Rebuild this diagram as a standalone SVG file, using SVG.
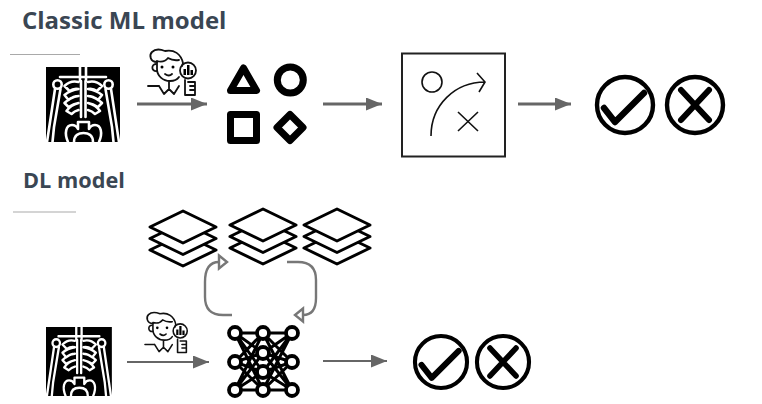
<svg xmlns="http://www.w3.org/2000/svg" xmlns:xlink="http://www.w3.org/1999/xlink" width="762" height="404" viewBox="0 0 762 404">
<style>
.title{font-family:"Open Sans","Noto Sans",sans-serif;font-weight:700;fill:#3a4653}
.rule{stroke:#a9a9a9;stroke-width:1;fill:none}
.conn{stroke:#666;fill:none}
.ret{stroke:#777;stroke-width:2.400;fill:none}
.bk{fill:none;stroke:#000;stroke-linecap:round;stroke-linejoin:round}
.layer{fill:#fff;stroke:#000;stroke-width:3;stroke-linejoin:round}
.bone{fill:none;stroke:#fff;stroke-width:2.600;stroke-linecap:round;stroke-linejoin:round}
.p{fill:none;stroke:#111;stroke-width:1.800;stroke-linecap:round;stroke-linejoin:round}
.nn{stroke:#000;stroke-width:3}
.nd{fill:#fff;stroke:#000;stroke-width:3.800}
</style>
<defs>
<marker id="ah" viewBox="0 0 16 13" markerUnits="userSpaceOnUse" markerWidth="17" markerHeight="13" refX="16" refY="6.5" orient="auto"><path d="M0 0L16 6.5L0 13Z" fill="#666"/></marker>
<g id="ribs">
<path class="bone" d="M42 15Q50 13 56 19L51 24Q47 21 42 22M42 22Q50 23 56 28L52 33Q47 29 42 29M42 29Q50 30 56 36L52 40Q47 37 42 36M42 36Q50 38 54 44L49 47Q46 44 42 43"/>
</g>
<g id="xray">
<rect x="0" y="0" width="74" height="75"/>
<path class="bone" d="M34 0V14M40 0V14M35 14V50M39.500 14V50M14 10H60"/>
<circle class="bone" cx="11.500" cy="17.500" r="4.200"/><circle class="bone" cx="62.500" cy="17.500" r="4.200"/>
<path class="bone" d="M9 22L1 75M14.500 22L8 60L6.500 75M65 22L73 75M59.500 22L66 60L67.500 75"/>
<use xlink:href="#ribs"/>
<use xlink:href="#ribs" transform="translate(74.500 0) scale(-1 1)"/>
<path class="bone" stroke-width="2" d="M22 75C18 66 20 58 26 58C29 58 31 60 32 62V55H43V62C44 60 46 58 49 58C55 58 57 66 53 75M28 75C28 68 33 66 37.500 66C42 66 47 68 47 75"/>
</g>
<g id="person">
<path class="p" d="M9 13C2 13 1 6 4 3C7 0 12 0 17 2C26 0 33 5 35 14L34 17"/>
<path class="p" d="M9 12Q16 14 20 9Q25 12 31 11M9 12V20C9 27 15 32 22 32C26 32 29 31 31 28"/>
<path class="p" d="M8 15C3 15 3 23 9 22M0 37H11M11 37L16 45L21 40L26 45L31 37M21 33V40"/>
<circle cx="14" cy="18" r="1.500"/><circle cx="25" cy="18" r="1.500"/>
<path class="p" d="M17 25Q21 28 24 25"/>
<circle class="p" cx="40" cy="21.500" r="8" fill="#fff" stroke-width="2.200"/>
<path d="M35.500 26V20H38V26ZM39 26V16H41.500V26ZM42.500 26V21H45V26Z"/>
<path class="p" d="M37 31V46H47V33H40M42 37H47M42 41H47" stroke-width="2"/>
</g>
<g id="check"><circle cx="0" cy="0" r="28" class="bk" stroke-width="4.400"/><path class="bk" stroke-width="6.400" d="M-21 3L-10 17L19 -12"/></g>
<g id="cross"><circle cx="0" cy="0" r="28" class="bk" stroke-width="4.400"/><path class="bk" stroke-width="6" d="M-14 -15L14 15M14 -15L-14 15"/></g>
<g id="stack">
<path class="layer" d="M0 23L33 39L0 55L-33 39Z"/>
<path class="layer" d="M0 11.500L33 27.500L0 43.500L-33 27.500Z"/>
<path class="layer" d="M0 0L33 16L0 32L-33 16Z"/>
</g>
</defs>

<g id="title-classic"><text class="title" x="22" y="29" font-size="24">Classic ML model</text><line class="rule" x1="10" y1="54.500" x2="80" y2="54.500"/></g>
<g id="title-dl"><text class="title" x="23" y="188" font-size="21.700">DL model</text><line class="rule" x1="13" y1="212" x2="76" y2="212"/></g>

<g id="connectors">
<line class="conn" stroke-width="3" x1="137" y1="104" x2="207" y2="104" marker-end="url(#ah)"/>
<line class="conn" stroke-width="3" x1="323" y1="104" x2="382" y2="104" marker-end="url(#ah)"/>
<line class="conn" stroke-width="3" x1="518" y1="104" x2="571" y2="104" marker-end="url(#ah)"/>
<line class="conn" stroke-width="2.200" x1="127" y1="362" x2="209" y2="362" marker-end="url(#ah)"/>
<line class="conn" stroke-width="2.200" x1="323" y1="361" x2="387" y2="361" marker-end="url(#ah)"/>
<path class="ret" d="M232 315H223Q205 315 205 297V282Q205 262 219 262"/>
<path class="ret" d="M219 255.500L227 262L219 268.500Z"/>
<path class="ret" d="M287 262H298Q316 262 316 280V298Q316 315 303 315"/>
<path class="ret" d="M303 308.500L295 315L303 321.500Z"/>
</g>

<g id="xray-classic"><use xlink:href="#xray" transform="translate(46 67)"/></g>
<g id="person-classic"><use xlink:href="#person" transform="translate(148 49)"/></g>
<g id="features">
<path class="bk" stroke-width="7" d="M243.500 68L256.500 90.500H230.500Z"/>
<circle class="bk" stroke-width="7" cx="290.300" cy="80" r="13"/>
<rect class="bk" stroke-width="7" x="230.500" y="114.500" width="26" height="26"/>
<path class="bk" stroke-width="7" d="M290 114.500L303 127.500L290 140.500L277 127.500Z"/>
</g>
<g id="classifier">
<rect x="402" y="53.500" width="103" height="103" fill="#fff" stroke="#222" stroke-width="2"/>
<circle cx="432" cy="82" r="10" fill="none" stroke="#111" stroke-width="1.600"/>
<path fill="none" stroke="#111" stroke-width="1.600" d="M431 136C431 105 455 82 485 82M477 73L485 82L479 92M458 112L478 131M478 112L458 131"/>
</g>
<g id="result-classic-ok"><use xlink:href="#check" transform="translate(625 105)"/></g>
<g id="result-classic-no"><use xlink:href="#cross" transform="translate(695 105)"/></g>

<g id="layers-1"><use xlink:href="#stack" transform="translate(183 211)"/></g>
<g id="layers-2"><use xlink:href="#stack" transform="translate(263 209)"/></g>
<g id="layers-3"><use xlink:href="#stack" transform="translate(337 209)"/></g>

<g id="xray-dl"><use xlink:href="#xray" transform="translate(46 327) scale(.89 .92)"/></g>
<g id="person-dl"><use xlink:href="#person" transform="translate(145 312) scale(.88)"/></g>
<g id="network">
<path class="nn" fill="none" d="M235 333H292M235 390H292M235 333L263 353M235 333L263 372M235 333L263 390M235 362L263 333M235 362L263 353M235 362L263 372M235 362L263 390M235 390L263 333M235 390L263 353M235 390L263 372M292 333L263 353M292 333L263 372M292 333L263 390M292 362L263 333M292 362L263 353M292 362L263 372M292 362L263 390M292 390L263 333M292 390L263 353M292 390L263 372"/>
<circle class="nd" cx="235" cy="333" r="6"/><circle class="nd" cx="235" cy="362" r="6"/><circle class="nd" cx="235" cy="390" r="6"/>
<circle class="nd" cx="263" cy="333" r="6"/><circle class="nd" cx="263" cy="353" r="6"/><circle class="nd" cx="263" cy="372" r="6"/><circle class="nd" cx="263" cy="390" r="6"/>
<circle class="nd" cx="292" cy="333" r="6"/><circle class="nd" cx="292" cy="362" r="6"/><circle class="nd" cx="292" cy="390" r="6"/>
</g>
<g id="result-dl-ok"><use xlink:href="#check" transform="translate(441 362) scale(.93)"/></g>
<g id="result-dl-no"><use xlink:href="#cross" transform="translate(503 362) scale(.93)"/></g>
</svg>
